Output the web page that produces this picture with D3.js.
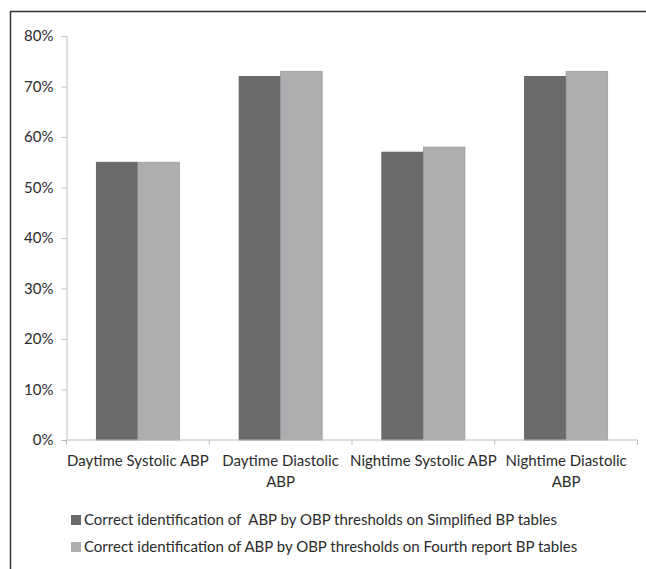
<!DOCTYPE html>
<html>
<head>
<meta charset="utf-8">
<script src="https://cdn.jsdelivr.net/npm/d3@7"></script>
<style>
  html, body { margin: 0; padding: 0; background: #ffffff; }
  svg { display: block; }
  text { font-family: Lato, "Open Sans", sans-serif; fill: #2b2b2b; }
</style>
</head>
<body>
<svg id="chart" width="646" height="569"></svg>
<script>
// Categories (each label split into its displayed lines)
const categories = [
  "Daytime Systolic ABP",
  "Daytime Diastolic ABP",
  "Nightime Systolic ABP",
  "Nightime Diastolic ABP"
];
const categoryLines = [
  ["Daytime Systolic ABP"],
  ["Daytime Diastolic", "ABP"],
  ["Nightime Systolic ABP"],
  ["Nightime Diastolic", "ABP"]
];

// Series values (percent)
const simplifiedValues = [55, 72, 57, 72];
const fourthReportValues = [55, 73, 58, 73];

const seriesNames = [
  "Correct identification of  ABP by OBP thresholds on Simplified BP tables",
  "Correct identification of ABP by OBP thresholds on Fourth report BP tables"
];
const seriesColors = ["#6b6b6d", "#aeaeb1"];
const seriesStrokes = ["#5e5e60", "#9c9c9f"];

const yTicks = [0, 10, 20, 30, 40, 50, 60, 70, 80];

const svg = d3.select("#chart");

// Outer frame (runs off the right and bottom edges)
svg.append("path")
  .attr("d", "M10.5,700 L10.5,11.5 L700,11.5")
  .attr("fill", "none")
  .attr("stroke", "#333333")
  .attr("stroke-width", 1.5);

const plot = { left: 66.5, right: 637.5, top: 36, bottom: 440 };

const x = d3.scaleBand()
  .domain(categories)
  .range([plot.left, plot.right])
  .paddingInner(0)
  .paddingOuter(0);

const groupInner = 0.582;
const xSub = d3.scaleBand()
  .domain([0, 1])
  .range([0, x.bandwidth() * groupInner]);

const y = d3.scaleLinear().domain([0, 80]).range([plot.bottom, plot.top]);

// Y axis
const yAxis = d3.axisLeft(y)
  .tickValues(yTicks)
  .tickFormat(d => d + "%")
  .tickSize(5)
  .tickPadding(8);
const gy = svg.append("g")
  .attr("transform", `translate(${plot.left},0)`)
  .call(yAxis);
gy.select(".domain").attr("stroke", "#bdbdbd");
gy.selectAll(".tick line").attr("stroke", "#bdbdbd");
gy.selectAll(".tick text")
  .attr("font-size", 15)
  .attr("font-family", "Lato, 'Open Sans', sans-serif")
  .attr("fill", "#2b2b2b");

// Bars
const series = [simplifiedValues, fourthReportValues];
series.forEach((vals, si) => {
  svg.append("g")
    .selectAll("rect")
    .data(vals)
    .join("rect")
    .attr("x", (d, i) => x(categories[i]) + x.bandwidth() * (1 - groupInner) / 2 + xSub(si))
    .attr("y", d => y(d))
    .attr("width", xSub.bandwidth())
    .attr("height", d => y(0) - y(d))
    .attr("fill", seriesColors[si])
    .attr("stroke", seriesStrokes[si])
    .attr("stroke-width", 0.8);
});

// X axis line with category boundary ticks
const gx = svg.append("g");
gx.append("line")
  .attr("x1", plot.left).attr("x2", plot.right)
  .attr("y1", y(0)).attr("y2", y(0))
  .attr("stroke", "#bdbdbd");
const boundaries = categories.map(c => x(c)).concat([x.range()[1]]);
gx.selectAll("line.tick")
  .data(boundaries)
  .join("line")
  .attr("class", "tick")
  .attr("x1", d => d).attr("x2", d => d)
  .attr("y1", y(0)).attr("y2", y(0) + 5)
  .attr("stroke", "#bdbdbd");

// Category labels
categories.forEach((c, i) => {
  const t = svg.append("text")
    .attr("x", x(c) + x.bandwidth() / 2)
    .attr("y", 466)
    .attr("text-anchor", "middle")
    .attr("font-size", 15);
  categoryLines[i].forEach((ln, k) => {
    t.append("tspan")
      .attr("x", x(c) + x.bandwidth() / 2)
      .attr("dy", k === 0 ? 0 : 21)
      .text(ln);
  });
});

// Legend
const legendY = [520, 547];
seriesNames.forEach((name, i) => {
  svg.append("rect")
    .attr("x", 71)
    .attr("y", legendY[i] - 5)
    .attr("width", 10)
    .attr("height", 10)
    .attr("fill", seriesColors[i]);
  svg.append("text")
    .attr("x", 84)
    .attr("y", legendY[i] + 5)
    .attr("font-size", 15)
    .style("white-space", "pre")
    .text(name);
});
</script>
</body>
</html>
